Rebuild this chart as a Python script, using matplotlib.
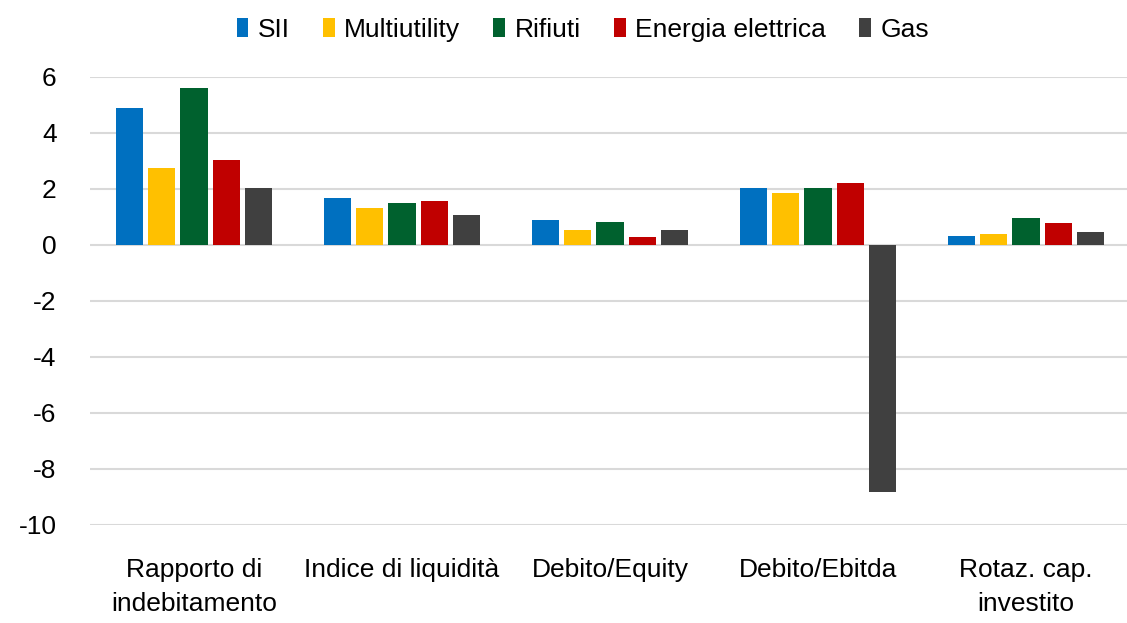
import numpy as np
import matplotlib.pyplot as plt

plt.rcParams['font.family'] = ['Liberation Sans', 'DejaVu Sans']
plt.rcParams['axes.unicode_minus'] = False

# Data
categories = ['Rapporto di\nindebitamento', 'Indice di liquidità', 'Debito/Equity',
              'Debito/Ebitda', 'Rotaz. cap.\ninvestito']
series_names = ['SII', 'Multiutility', 'Rifiuti', 'Energia elettrica', 'Gas']
sii = [4.89, 1.68, 0.89, 2.03, 0.33]
multiutility = [2.75, 1.32, 0.53, 1.86, 0.40]
rifiuti = [5.60, 1.50, 0.82, 2.03, 0.96]
energia = [3.04, 1.57, 0.29, 2.20, 0.77]
gas = [2.04, 1.07, 0.53, -8.82, 0.46]
colors = ['#0070C0', '#FFC000', '#00612E', '#C00000', '#404040']

values = [sii, multiutility, rifiuti, energia, gas]

fig = plt.figure(figsize=(11.27, 6.23), dpi=100)
ax = fig.add_axes([90 / 1127, 98 / 623, 1040 / 1127, 448 / 623])

x = np.arange(len(categories))
step = 0.154
width = 0.13
for i, (name, vals, c) in enumerate(zip(series_names, values, colors)):
    ax.bar(x + (i - 2) * step, vals, width, color=c, label=name, zorder=3)

ax.set_xlim(-0.5, len(categories) - 0.5)
ax.set_ylim(-10, 6)
ax.set_yticks(np.arange(-10, 7, 2))
ax.set_xticks(x)
ax.set_xticklabels(categories, fontsize=19, linespacing=1.5)
ax.tick_params(axis='y', labelsize=19, length=0, pad=24)
ax.tick_params(axis='x', length=0, pad=24)
ax.grid(axis='y', color='#D9D9D9', linewidth=1.5, zorder=0)
for s in ax.spines.values():
    s.set_visible(False)

fig.legend(loc='upper center', bbox_to_anchor=(0.517, 1.01), ncol=5, frameon=False,
           fontsize=19, handlelength=0.45, handleheight=0.75, handletextpad=0.35,
           columnspacing=1.26)

fig.savefig('out.png', dpi=100)
